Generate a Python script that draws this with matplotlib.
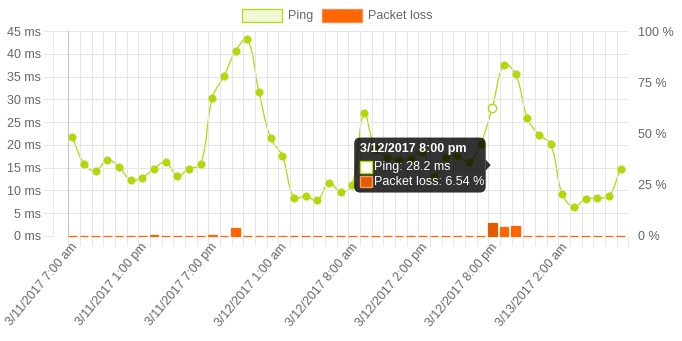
import numpy as np
import matplotlib
matplotlib.use("Agg")
import matplotlib.pyplot as plt
from matplotlib.path import Path
from matplotlib.patches import PathPatch, FancyBboxPatch, Rectangle, Polygon
from matplotlib.transforms import IdentityTransform, ScaledTranslation

plt.rcParams['font.family'] = ['Liberation Sans', 'DejaVu Sans']

# hourly ping (ms) and packet loss (%) from 3/11/2017 7:00 am
ping = [21.7, 15.9, 14.3, 16.7, 15.2, 12.3, 12.8, 14.8, 16.2, 13.2, 14.8, 15.7,
        30.3, 35.1, 40.6, 43.2, 31.6, 21.5, 17.6, 8.4, 8.8, 7.8, 11.7, 9.7,
        11.3, 26.9, 19.0, 17.4, 16.7, 17.0, 18.5, 13.0, 17.4, 17.5, 16.3, 20.3,
        28.2, 37.6, 35.5, 26.0, 22.2, 20.2, 9.2, 6.4, 8.2, 8.3, 8.8, 14.8]
loss = [0, 0, 0, 0, 0, 0, 0, 0.5, 0, 0, 0, 0,
        0.5, 0, 3.8, 0, 0, 0, 0, 0, 0, 0, 0, 0,
        0, 0, 0, 0, 0, 0, 0, 0, 0, 0, 0, 0,
        6.54, 4.5, 5.0, 0, 0, 0, 0, 0, 0, 0, 0, 0]
tick_idx = [0, 6, 12, 18, 24, 30, 36, 42]
tick_labels = ["3/11/2017 7:00 am", "3/11/2017 1:00 pm", "3/11/2017 7:00 pm",
               "3/12/2017 1:00 am", "3/12/2017 8:00 am", "3/12/2017 2:00 pm",
               "3/12/2017 8:00 pm", "3/13/2017 2:00 am"]
ms_ticks = list(range(0, 50, 5))
pct_ticks = [0, 25, 50, 75, 100]
hover = 36
hover_title = "3/12/2017 8:00 pm"

green = '#b1d80a'
orange = '#ff6600'
grid = '#e6e6e6'
txt = '#666666'

W, H = 682, 341
fig = plt.figure(figsize=(W / 100, H / 100), dpi=100)
L, R, T, B = 53, 628.3, 31, 236
ax = fig.add_axes([L / W, 1 - B / H, (R - L) / W, (B - T) / H])
ax2 = ax.twinx()

n = len(ping)
x = np.arange(n)
ax.set_xlim(-1.654, n - 0.343)
ax.set_ylim(0, 45)
ax2.set_ylim(0, 100)
for a in (ax, ax2):
    for s in a.spines.values():
        s.set_visible(False)

# grid
ax.set_xticks(np.arange(n + 1) - 0.343, minor=True)
ax.grid(which='minor', axis='x', color=grid, lw=0.75)
ax.set_yticks(ms_ticks, [f"{v} ms" for v in ms_ticks])
ax.grid(which='major', axis='y', color=grid, lw=0.75)
ax.axvline(-1.654, color=grid, lw=1.2)
ax.axvline(-0.343, color='#c4c4c4', lw=0.75)
ax.axhline(0, color='#bfbfbf', lw=0.75)
ax.tick_params(axis='y', length=7.2, width=0.75, color=grid, pad=1.5,
               labelcolor=txt, labelsize=9)
ax.tick_params(axis='x', which='minor', length=7.2, width=0.75, color=grid)
ax.set_xticks(tick_idx, tick_labels, rotation=50, ha='right',
              rotation_mode='anchor', va='center')
ax.tick_params(axis='x', which='major', length=0, pad=6.5, labelcolor=txt,
               labelsize=9)
shift = ScaledTranslation(3 / 100, 0, fig.dpi_scale_trans)
for lab in ax.get_xticklabels():
    lab.set_transform(lab.get_transform() + shift)

ax2.set_yticks(pct_ticks, [f"{v} %" for v in pct_ticks])
ax2.tick_params(axis='y', length=0, pad=7.2, labelcolor=txt, labelsize=9)

# smooth line (chart.js style bezier, tension 0.4)
sx = (R - L) / (n - 0.343 + 1.654)
sy = (B - T) / 45


def spline_path(xs, ys, t=0.4):
    px = np.asarray(xs, float) * sx
    py = np.asarray(ys, float) * sy
    m = len(px)
    cps = []
    for i in range(m):
        p, q = max(i - 1, 0), min(i + 1, m - 1)
        d01 = np.hypot(px[i] - px[p], py[i] - py[p])
        d12 = np.hypot(px[q] - px[i], py[q] - py[i])
        tot = d01 + d12
        fa = t * d01 / tot if tot else 0
        fb = t * d12 / tot if tot else 0
        dx, dy = px[q] - px[p], py[q] - py[p]
        cps.append(((px[i] - fa * dx, py[i] - fa * dy),
                    (px[i] + fb * dx, py[i] + fb * dy)))
    verts = [(px[0], py[0])]
    codes = [Path.MOVETO]
    for i in range(1, m):
        verts += [cps[i - 1][1], cps[i][0], (px[i], py[i])]
        codes += [Path.CURVE4] * 3
    return Path([(a / sx, b / sy) for a, b in verts], codes)


ax.add_patch(PathPatch(spline_path(x, ping), fill=False, ec=green, lw=0.9))
others = [i for i in x if i != hover]
ax.plot(others, [ping[i] for i in others], 'o', ms=5.3, color=green, mec=green,
        mew=0.5, ls='none')
ax.plot([hover], [ping[hover]], 'o', ms=6, mfc='white', mec=green, mew=1)

# packet loss bars
bar_colors = ['#e35d00' if i == hover else orange for i in x]
ax2.bar(x, loss, width=0.75, color=bar_colors, edgecolor=bar_colors,
        linewidth=0.9, clip_on=False)

# legend
def fx(v):
    return v / W


def fy(v):
    return 1 - v / H


fig.add_artist(Rectangle((fx(242), fy(21.5)), fx(40), 12.5 / H,
                         transform=fig.transFigure, fc='#eff8d2', ec=green,
                         lw=0.9))
fig.text(fx(288), fy(16), "Ping", color=txt, fontsize=9, va='center')
fig.add_artist(Rectangle((fx(322), fy(21.5)), fx(40), 12.5 / H,
                         transform=fig.transFigure, fc=orange, ec='#ff8a45',
                         lw=0.9))
fig.text(fx(368), fy(16), "Packet loss", color=txt, fontsize=9, va='center')

# tooltip at hovered hour
ptx, pty = ax.transData.transform((hover, ping[hover]))
_, bty = ax2.transData.transform((hover, loss[hover]))
cy = (pty + bty) / 2
tip = ptx - 1.6
right = tip - 5
left = right - 131.5
bw, bh = right - left, 55
fig.add_artist(FancyBboxPatch((left, cy - bh / 2), bw, bh,
                              boxstyle="round,pad=0,rounding_size=6",
                              transform=IdentityTransform(),
                              fc=(0, 0, 0, 0.8), ec='none', zorder=5))
fig.add_artist(Polygon([(right, cy + 5.5), (tip, cy), (right, cy - 5.5)],
                       closed=True, transform=IdentityTransform(),
                       fc=(0, 0, 0, 0.8), ec='none', zorder=5))
ty = H - cy  # top-origin pixel of caret
fig.text(fx(left + 6), fy(ty - 15.8), hover_title, color='white', fontsize=9,
         fontweight='bold', va='center', zorder=6)
fig.add_artist(Rectangle((fx(left + 5.5), fy(ty + 7.5)), fx(12), 11.5 / H,
                         transform=fig.transFigure, fc='white', ec=green,
                         lw=1, zorder=6))
fig.text(fx(left + 20), fy(ty + 2.2), f"Ping: {ping[hover]} ms", color='white',
         fontsize=9, va='center', zorder=6)
fig.add_artist(Rectangle((fx(left + 5.5), fy(ty + 22.3)), fx(12), 11.5 / H,
                         transform=fig.transFigure, fc='#e35d00',
                         ec='#ff9a5a', lw=1, zorder=6))
fig.text(fx(left + 20), fy(ty + 16.7), f"Packet loss: {loss[hover]} %",
         color='white', fontsize=9, va='center', zorder=6)

fig.savefig("out.png", dpi=100)
